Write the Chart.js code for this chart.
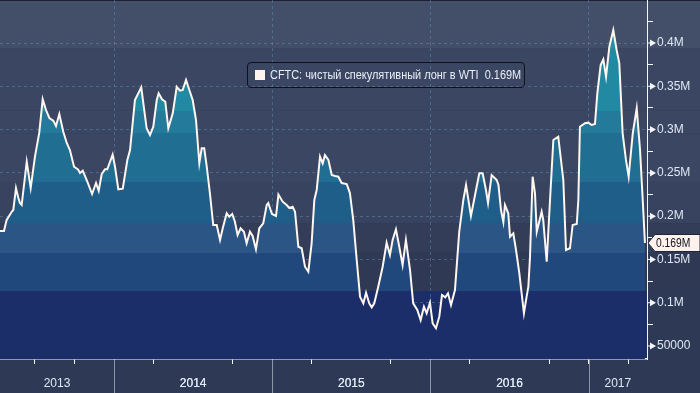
<!DOCTYPE html>
<html><head><meta charset="utf-8">
<script src="https://cdn.jsdelivr.net/npm/chart.js@4.4.1/dist/chart.umd.min.js"></script>
<style>
html,body{margin:0;padding:0;background:#2e3a55;}
#wrap{position:relative;width:700px;height:393px;overflow:hidden;}
#legend{position:absolute;left:247px;top:62px;width:276px;height:24px;border:1px solid #0e1118;border-radius:4px;font:12px "Liberation Sans",Arial,sans-serif;color:#e9eef7;white-space:pre;}
#legend .sw{position:absolute;left:7px;top:7px;width:10px;height:10px;background:#fdf4ef;}
#legend .tx{position:absolute;left:22px;top:0;line-height:25px;transform:scaleX(0.91);transform-origin:0 50%;}
</style></head><body>
<div id="wrap"><canvas id="c" width="700" height="393"></canvas>
<div id="legend"><span class="sw"></span><span class="tx" id="legtx"></span></div></div>
<script>
// ---- data (decimal year, net long contracts) ----
const dates = [2013.279,2013.304,2013.321,2013.353,2013.363,2013.380,2013.395,2013.405,2013.416,2013.448,2013.473,2013.500,2013.527,2013.549,2013.570,2013.591,2013.616,2013.633,2013.654,2013.679,2013.701,2013.721,2013.747,2013.772,2013.785,2013.802,2013.831,2013.861,2013.886,2013.903,2013.922,2013.943,2013.957,2013.991,2014.006,2014.027,2014.055,2014.084,2014.101,2014.132,2014.172,2014.206,2014.227,2014.248,2014.270,2014.282,2014.303,2014.324,2014.343,2014.371,2014.396,2014.417,2014.434,2014.455,2014.476,2014.497,2014.518,2014.539,2014.554,2014.570,2014.586,2014.606,2014.627,2014.649,2014.670,2014.687,2014.712,2014.728,2014.747,2014.764,2014.781,2014.800,2014.821,2014.838,2014.859,2014.876,2014.897,2014.918,2014.943,2014.965,2014.975,2014.998,2015.024,2015.039,2015.066,2015.091,2015.108,2015.129,2015.144,2015.165,2015.186,2015.207,2015.228,2015.249,2015.266,2015.281,2015.302,2015.319,2015.333,2015.355,2015.376,2015.397,2015.418,2015.439,2015.471,2015.491,2015.512,2015.534,2015.555,2015.576,2015.593,2015.613,2015.629,2015.645,2015.670,2015.698,2015.723,2015.744,2015.761,2015.782,2015.803,2015.824,2015.845,2015.871,2015.891,2015.917,2015.938,2015.959,2015.976,2015.997,2016.014,2016.035,2016.056,2016.073,2016.094,2016.111,2016.130,2016.155,2016.182,2016.208,2016.225,2016.256,2016.282,2016.309,2016.330,2016.351,2016.364,2016.387,2016.419,2016.430,2016.446,2016.461,2016.471,2016.492,2016.503,2016.524,2016.541,2016.562,2016.591,2016.608,2016.619,2016.629,2016.646,2016.661,2016.672,2016.703,2016.713,2016.735,2016.756,2016.777,2016.808,2016.840,2016.857,2016.882,2016.899,2016.925,2016.935,2016.945,2016.977,2016.998,2017.019,2017.040,2017.055,2017.076,2017.093,2017.110,2017.131,2017.156,2017.177,2017.194,2017.215,2017.236,2017.253,2017.279,2017.304,2017.325,2017.342,2017.356];
const netLong = [182900,182900,195600,205100,207100,232500,221000,215200,212900,262900,232500,268700,296100,335000,322600,313400,310300,304100,318000,297600,284500,276400,257100,254100,249900,252500,239800,225600,238300,229400,248700,254100,254100,271000,257100,231000,231700,264900,276400,334200,348800,301500,293700,303300,334200,341900,335000,332200,301500,318800,349500,344900,345700,357300,345700,334200,311100,261100,278400,278400,257100,226400,189800,189800,172500,186000,203300,199400,202500,193600,178200,186000,182000,168600,182000,177100,161700,186000,191700,212900,215200,202500,200200,225000,216700,212900,209400,210900,205100,164700,162900,141600,135800,168600,218700,230200,268700,261100,270600,264900,247500,246400,245600,238300,237100,226700,195600,149400,107000,99300,111600,99300,94700,99300,118500,141600,169300,155100,172500,184800,164700,143600,172500,137800,99300,91600,80000,95400,87800,100000,76200,70500,83900,108900,106300,110900,97400,114700,182000,218700,236000,200200,224400,249500,249500,230200,215200,247500,241800,236000,207100,193200,212900,203300,176300,180200,160900,134000,87800,107000,118500,151300,245600,226400,182000,205100,195600,147400,218700,288000,291800,241800,160900,162900,189800,190900,218700,303300,307300,308000,305300,306400,341900,374600,381200,361100,395700,415000,391900,376600,295700,264900,245600,295700,324600,276400,218700,169000];
const seriesName = "CFTC: чистый спекулятивный лонг в WTI";
const yTickValues = [50000,75000,100000,125000,150000,175000,200000,225000,250000,275000,300000,325000,350000,375000,400000,425000];
const xTickValues = [2013.5,2013.75,2014,2014.25,2014.5,2014.75,2015,2015.25,2015.5,2015.75,2016,2016.25,2016.5,2016.75,2017,2017.25];
const years = [2013,2014,2015,2016,2017];
const xMin = 2013.279, xMax = 2017.369;
const yMin = 35000, yMax = 449700;
const bandEdges = [113500,158000,192000,239500,295700,321800,394200];

// ---- styles ----
const fillColors = ['#1b2e6a','#20487c','#2a5585','#1f5e88','#216e93','#247a9a','#2289a3','#2590a8'];
const bgColors   = ['#1b2e6a','#2f3954','#333d58','#384360','#3b4662','#3b4662','#3b4662','#434e68'];
const gridColor = 'rgba(100,150,185,0.45)';
const textColor = '#dfe7f3';
const FONT = '"Liberation Sans", Arial, sans-serif';

function fmtVal(v){ return v >= 100000 ? (v/1e6).toString() + 'M' : String(v); }
const lastVal = netLong[netLong.length-1];
const lastLabel = (lastVal/1e6).toFixed(3) + 'M';
document.getElementById('legtx').textContent = seriesName + '  ' + lastLabel;

const yearLabelTicks = years.map(y => (Math.max(xMin, y) + Math.min(xMax, y + 1)) / 2);
const isLabelTick = v => yearLabelTicks.some(t => Math.abs(t - v) < 1e-6);

function bandGradient(chart, colors) {
  const {ctx, chartArea, scales} = chart;
  if (!chartArea) return colors[0];
  const y = scales.y, top = chartArea.top, bot = chartArea.bottom, h = bot - top;
  const g = ctx.createLinearGradient(0, bot, 0, top);
  g.addColorStop(0, colors[0]);
  bandEdges.forEach((v, i) => {
    let f = (bot - y.getPixelForValue(v)) / h;
    f = Math.min(1, Math.max(0, f));
    g.addColorStop(f, colors[i]);
    g.addColorStop(f, colors[i + 1]);
  });
  g.addColorStop(1, colors[colors.length - 1]);
  return g;
}

const bgPlugin = {
  id: 'bands',
  beforeDraw(chart) {
    const {ctx, chartArea, scales, width, height} = chart;
    const y = scales.y;
    ctx.save();
    ctx.fillStyle = '#2e3a55';
    ctx.fillRect(0, 0, width, height);
    const edges = [y.min].concat(bandEdges, [y.max]);
    for (let i = 0; i < edges.length - 1; i++) {
      const y1 = Math.max(chartArea.top, y.getPixelForValue(edges[i + 1]));
      const y2 = Math.min(chartArea.bottom, y.getPixelForValue(edges[i]));
      if (y2 <= y1) continue;
      ctx.fillStyle = bgColors[i];
      const right = i === 0 ? chartArea.right : width;
      ctx.fillRect(0, y1, right, y2 - y1);
    }
    ctx.fillStyle = '#1d2230';
    ctx.fillRect(0, 0, width, 1);
    ctx.restore();
  },
  afterDraw(chart) {
    const {ctx, chartArea, scales, width, height} = chart;
    const x = scales.x, y = scales.y;
    ctx.save();
    ctx.strokeStyle = '#8d95a8';
    ctx.lineWidth = 1;
    years.forEach(yr => {
      if (yr <= xMin || yr >= xMax) return;
      const px = Math.round(x.getPixelForValue(yr)) + 0.5;
      ctx.beginPath(); ctx.moveTo(px, chartArea.bottom + 1); ctx.lineTo(px, height); ctx.stroke();
    });
    ctx.fillStyle = '#f4f6fa';
    ctx.strokeStyle = '#f4f6fa';
    yTickValues.forEach(v => {
      if (v % 50000 !== 0) return;
      const py = y.getPixelForValue(v);
      const x0 = chartArea.right;
      ctx.beginPath(); ctx.moveTo(x0, py); ctx.lineTo(x0 + 4, py); ctx.stroke();
      ctx.beginPath(); ctx.moveTo(x0 + 3, py - 3.5); ctx.lineTo(x0 + 9, py); ctx.lineTo(x0 + 3, py + 3.5); ctx.closePath(); ctx.fill();
    });
    const py = y.getPixelForValue(lastVal);
    const tip = chartArea.right + 1;
    ctx.fillStyle = '#fdf3ec';
    ctx.strokeStyle = '#20263a';
    ctx.beginPath();
    ctx.moveTo(tip, py); ctx.lineTo(tip + 7, py - 8.5); ctx.lineTo(width, py - 8.5);
    ctx.lineTo(width, py + 8.5); ctx.lineTo(tip + 7, py + 8.5); ctx.closePath();
    ctx.fill(); ctx.stroke();
    ctx.fillStyle = '#0f1220';
    ctx.font = '12px "Liberation Sans", Arial, sans-serif';
    ctx.textBaseline = 'middle';
    ctx.translate(tip + 8, py + 0.5);
    ctx.scale(0.86, 1);
    ctx.fillText(lastLabel, 0, 0);
    ctx.restore();
  }
};

Chart.defaults.font.family = FONT;
new Chart(document.getElementById('c'), {
  type: 'line',
  data: {
    datasets: [{
      data: dates.map((d, i) => ({x: d, y: netLong[i]})),
      borderColor: '#fff6ef',
      borderWidth: 2,
      pointRadius: 0,
      tension: 0,
      fill: 'start',
      backgroundColor: ctx => bandGradient(ctx.chart, fillColors)
    }]
  },
  options: {
    responsive: false,
    animation: false,
    devicePixelRatio: 1,
    layout: {padding: 0},
    plugins: {legend: {display: false}, tooltip: {enabled: false}},
    scales: {
      x: {
        type: 'linear', min: xMin, max: xMax, z: 1,
        afterBuildTicks: s => { s.ticks = xTickValues.concat(yearLabelTicks).sort((a, b) => a - b).map(v => ({value: v})); },
        afterFit: s => { s.height = 34; s.paddingLeft = 0; s.paddingRight = 0; },
        ticks: {
          autoSkip: false, maxRotation: 0, padding: 12, color: textColor,
          font: {size: 12},
          callback: v => isLabelTick(v) ? String(Math.floor(v)) : ''
        },
        grid: {
          color: c => (c.tick && Number.isInteger(c.tick.value)) ? gridColor : 'rgba(0,0,0,0)',
          tickColor: c => (c.tick && isLabelTick(c.tick.value)) ? 'rgba(0,0,0,0)' : '#f4f6fa',
          tickLength: 5, lineWidth: 1, borderDash: [3, 3]
        },
        border: {display: true, color: '#f4f6fa', width: 1.5, dash: [3, 3]}
      },
      y: {
        type: 'linear', position: 'right', min: yMin, max: yMax, z: 1,
        afterBuildTicks: s => { s.ticks = yTickValues.map(v => ({value: v})); },
        afterFit: s => { s.width = 53; s.paddingTop = 0; s.paddingBottom = 0; },
        ticks: {
          padding: 4, color: textColor, font: {size: 12},
          callback: v => v % 50000 === 0 ? fmtVal(v) : ''
        },
        grid: {
          color: c => (c.tick && c.tick.value % 50000 === 0) ? gridColor : 'rgba(0,0,0,0)',
          tickColor: c => (c.tick && c.tick.value % 50000 === 0) ? 'rgba(0,0,0,0)' : '#f4f6fa',
          tickLength: 6, lineWidth: 1, borderDash: [3, 3]
        },
        border: {display: true, color: '#f4f6fa', width: 1, dash: [3, 3]}
      }
    }
  },
  plugins: [bgPlugin]
});
</script>
</body></html>
